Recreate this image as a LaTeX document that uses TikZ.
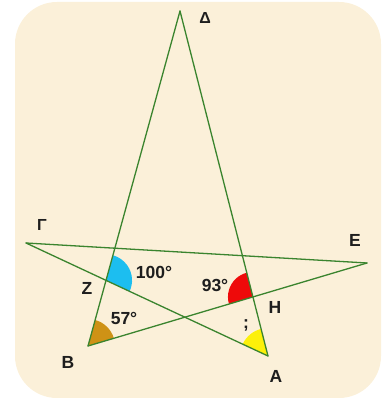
\documentclass[tikz,border=0pt]{standalone}
\usepackage{fontspec}
\setmainfont{Liberation Sans}
\usetikzlibrary{angles}
\definecolor{paper}{RGB}{251,240,217}
\definecolor{linegreen}{RGB}{58,132,46}
\definecolor{skyblue}{RGB}{28,190,240}
\definecolor{ochre}{RGB}{206,146,22}
\definecolor{angred}{RGB}{238,10,10}
\definecolor{angyellow}{RGB}{252,240,10}
\definecolor{ink}{RGB}{30,30,30}
\begin{document}
\begin{tikzpicture}[x=1pt, y=1pt,
    side/.style={linegreen, line width=1.3pt, line cap=round},
    lbl/.style={font=\fontsize{17.5}{20}\selectfont\bfseries, text=ink, inner sep=0pt},
    glbl/.style={font=\fontsize{16}{19}\selectfont\bfseries, text=ink, inner sep=0pt}]
  \useasboundingbox (0,0) rectangle (385,403);
  % Background card
  \fill[paper, rounded corners=42pt] (15,5) rectangle (381,401);

  % Star vertices
  \coordinate (D) at (180,392);
  \coordinate (G) at (26,160);
  \coordinate (E) at (367,140);
  \coordinate (B) at (88,57);
  \coordinate (A) at (268,47);
  % Crossings
  \coordinate (Z) at (intersection of D--B and G--A);
  \coordinate (H) at (intersection of D--A and B--E);

  % Marked angles
  \foreach \a/\v/\b/\col/\r in {A/Z/D/skyblue/26, E/B/D/ochre/27, D/H/B/angred/25, D/A/G/angyellow/28}
    \pic[fill=\col, angle radius=\r pt] {angle=\a--\v--\b};

  % Sides of the star
  \foreach \p/\q in {D/B, D/A, G/E, G/A, B/E}
    \draw[side] (\p) -- (\q);

  % Vertex labels
  \node[glbl] (lD) at (205,385) {Δ};
  \node[glbl] (lG) at (42,178) {Γ};
  \node[lbl] (lE) at (355,163) {E};
  \node[lbl] (lZ) at (87,115) {Z};
  \node[lbl] (lH) at (275,96) {H};
  \node[lbl] (lB) at (68,41) {B};
  \node[lbl] (lA) at (276,27) {A};

  % Angle values
  \node[lbl] (v100) at (154,131) {100°};
  \node[lbl] (v93) at (215,118) {93°};
  \node[lbl] (v57) at (124,85) {57°};
  \node[lbl] (vq) at (246,78) {;};
\end{tikzpicture}
\end{document}
